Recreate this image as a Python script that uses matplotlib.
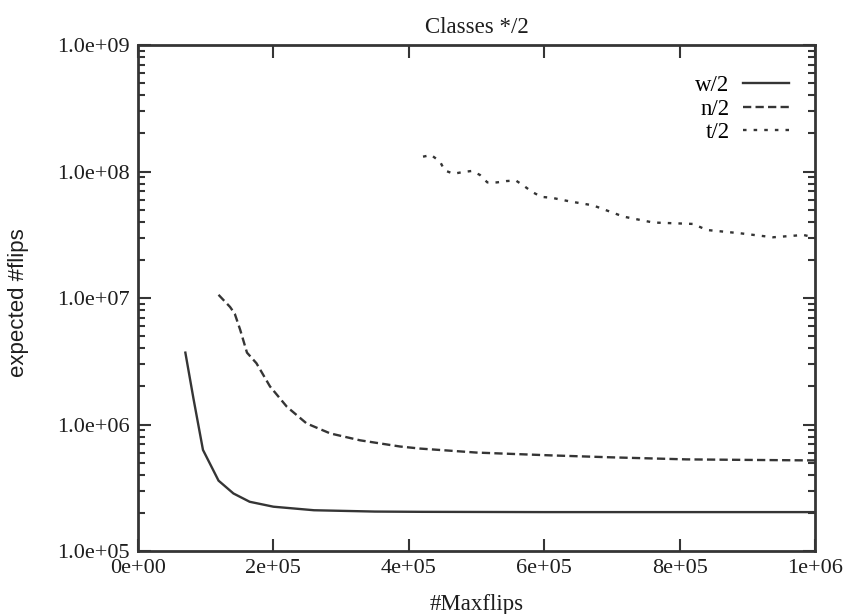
import matplotlib.pyplot as plt
from matplotlib.ticker import FixedLocator, LogLocator, NullFormatter

# data
w2_x = [7.0e4, 8.2e4, 9.6e4, 1.19e5, 1.41e5, 1.65e5, 2.0e5, 2.6e5, 3.5e5, 4.2e5, 6e5, 8e5, 1.0e6]
w2_y = [3.7e6, 1.6e6, 6.3e5, 3.6e5, 2.85e5, 2.45e5, 2.24e5, 2.1e5, 2.05e5, 2.04e5, 2.03e5, 2.03e5, 2.03e5]

n2_x = [1.19e5, 1.36e5, 1.43e5, 1.51e5, 1.61e5, 1.75e5, 1.95e5, 2.2e5, 2.49e5, 2.84e5,
        3.28e5, 3.87e5, 4.17e5, 5.0e5, 6.1e5, 7.0e5, 8.1e5, 9.0e5, 1.0e6]
n2_y = [1.06e7, 8.5e6, 7.5e6, 5.6e6, 3.7e6, 3.05e6, 2.0e6, 1.38e6, 1.02e6, 8.5e5,
        7.5e5, 6.7e5, 6.45e5, 6.0e5, 5.7e5, 5.5e5, 5.3e5, 5.25e5, 5.2e5]

t2_x = [4.21e5, 4.33e5, 4.46e5, 4.53e5, 4.66e5, 4.8e5, 4.93e5, 5.05e5, 5.16e5, 5.3e5,
        5.44e5, 5.58e5, 5.7e5, 5.82e5, 5.96e5, 6.11e5, 6.38e5, 6.72e5, 7.17e5,
        7.61e5, 8.2e5, 8.4e5, 8.89e5, 9.38e5, 9.83e5, 1.0e6]
t2_y = [1.31e8, 1.35e8, 1.2e8, 1.02e8, 9.6e7, 9.9e7, 1.01e8, 9.4e7, 8.2e7, 8.2e7,
        8.4e7, 8.5e7, 7.7e7, 6.9e7, 6.3e7, 6.2e7, 5.8e7, 5.4e7, 4.4e7,
        3.95e7, 3.85e7, 3.45e7, 3.25e7, 3.02e7, 3.15e7, 3.0e7]

x_ticks = [0, 2e5, 4e5, 6e5, 8e5, 1e6]
x_labels = ['0e+00', '2e+05', '4e+05', '6e+05', '8e+05', '1e+06']
y_ticks = [1e5, 1e6, 1e7, 1e8, 1e9]
y_labels = ['1.0e+05', '1.0e+06', '1.0e+07', '1.0e+08', '1.0e+09']

plt.rcParams['font.family'] = ['Liberation Serif', 'DejaVu Serif']
ink = '#353535'
txt = '#1e1e1e'

fig = plt.figure(figsize=(8.49, 6.14), dpi=100)
ax = fig.add_axes([0.1625, 0.1026, 0.7975, 0.8241])

ax.plot(w2_x, w2_y, color=ink, lw=1.7, label='w/2')
ax.plot(n2_x, n2_y, color=ink, lw=1.7, dashes=(3.5, 1.8), label='n/2')
ax.plot(t2_x, t2_y, color=ink, lw=1.7, dashes=(1.5, 3.0), label='t/2')

ax.set_yscale('log')
ax.set_xlim(0, 1e6)
ax.set_ylim(1e5, 1e9)

ax.xaxis.set_major_locator(FixedLocator(x_ticks))
ax.set_xticklabels(x_labels)
ax.yaxis.set_major_locator(FixedLocator(y_ticks))
ax.set_yticklabels(y_labels)
ax.yaxis.set_minor_locator(LogLocator(base=10, subs=range(2, 10)))
ax.yaxis.set_minor_formatter(NullFormatter())

ax.tick_params(which='both', direction='in', top=True, right=True, colors=ink,
               labelcolor=txt, labelsize=16, width=1.5)
ax.tick_params(which='major', length=9, pad=6)
ax.tick_params(which='minor', length=5)
for s in ax.spines.values():
    s.set_color(ink)
    s.set_linewidth(2)

ax.set_title('Classes */2', fontsize=16.5, color=txt, pad=9)
ax.set_xlabel('#Maxflips', fontsize=16.5, color=txt)
ax.xaxis.set_label_coords(0.5, -0.085)
ax.set_ylabel('expected #flips', fontsize=16, color=txt, family='Liberation Sans')
ax.yaxis.set_label_coords(-0.161, 0.49)

ax.legend(loc='upper right', bbox_to_anchor=(0.962, 0.94), frameon=False,
          markerfirst=False, fontsize=16.5, handlelength=2.0, handletextpad=0.6,
          labelspacing=0.1, borderpad=0, borderaxespad=0)

fig.savefig('out.png', dpi=100)
